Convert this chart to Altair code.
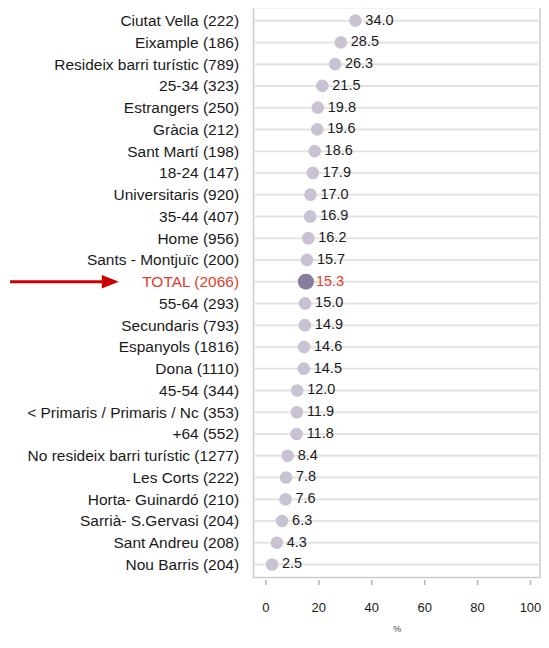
import altair as alt
import pandas as pd

categories = [
    "Ciutat Vella (222)", "Eixample (186)", "Resideix barri turístic (789)",
    "25-34 (323)", "Estrangers (250)", "Gràcia (212)", "Sant Martí (198)",
    "18-24 (147)", "Universitaris (920)", "35-44 (407)", "Home (956)",
    "Sants - Montjuïc (200)", "TOTAL (2066)", "55-64 (293)", "Secundaris (793)",
    "Espanyols (1816)", "Dona (1110)", "45-54 (344)",
    "< Primaris / Primaris / Nc (353)", "+64 (552)",
    "No resideix barri turístic (1277)", "Les Corts (222)", "Horta- Guinardó (210)",
    "Sarrià- S.Gervasi (204)", "Sant Andreu (208)", "Nou Barris (204)",
]
values = [34.0, 28.5, 26.3, 21.5, 19.8, 19.6, 18.6, 17.9, 17.0, 16.9, 16.2,
          15.7, 15.3, 15.0, 14.9, 14.6, 14.5, 12.0, 11.9, 11.8, 8.4, 7.8, 7.6,
          6.3, 4.3, 2.5]
x_ticks = [0, 20, 40, 60, 80, 100]
total_label = "TOTAL (2066)"

W, H = 287, 571
FONT = "Liberation Sans"
RED = "#e03c2c"

df = pd.DataFrame({"cat": categories, "val": values})
df["is_total"] = df["cat"] == total_label

y_enc = alt.Y(
    "cat:N", sort=categories, title=None,
    scale=alt.Scale(type="point", padding=0.6),
    axis=alt.Axis(
        ticks=False, domain=False, grid=False, labelPadding=15,
        labelFont=FONT, labelFontSize=15.5, labelLimit=400,
        labelColor={"condition": {"test": f"datum.value == '{total_label}'", "value": RED},
                    "value": "#1a1a1a"},
    ),
)
x_scale = alt.Scale(domain=[-4.5, 103.8], nice=False, zero=False)
x_enc = alt.X(
    "val:Q", scale=x_scale, title="%",
    axis=alt.Axis(
        values=x_ticks, grid=False, domain=False, tickColor="#b5b5b5",
        tickSize=5, tickWidth=1.5, offset=2, labelPadding=17,
        labelFont=FONT, labelFontSize=13, labelColor="#1a1a1a",
        titleFont=FONT, titleFontSize=9, titleFontWeight="normal",
        titleColor="#444444", titlePadding=10,
    ),
)

base = alt.Chart(df)

grid = base.mark_rule(color="#e4e4e4", strokeWidth=2).encode(
    y=y_enc, x=alt.value(0), x2=alt.value(W)
)

dots = base.mark_circle(opacity=1).encode(
    y=y_enc, x=x_enc,
    size=alt.condition("datum.is_total", alt.value(260), alt.value(160)),
    color=alt.condition("datum.is_total", alt.value("#877d9e"), alt.value("#c9c2d2")),
)

labels = base.mark_text(align="left", baseline="middle", dx=10, font=FONT,
                        fontSize=14.5).encode(
    y=y_enc, x=x_enc,
    text=alt.Text("val:Q", format=".1f"),
    color=alt.condition("datum.is_total", alt.value(RED), alt.value("#1a1a1a")),
)

arrow_df = pd.DataFrame({"cat": [total_label]})
arrow_line = alt.Chart(arrow_df).mark_rule(color="#cc0000", strokeWidth=3).encode(
    y=y_enc, x=alt.value(-244), x2=alt.value(-147)
)
arrow_head = alt.Chart(arrow_df).mark_point(
    shape="M-1,-0.8L1,0L-1,0.8Z", filled=True, color="#cc0000", opacity=1, size=289
).encode(y=y_enc, x=alt.value(-143.5))

chart = alt.layer(grid, dots, labels, arrow_line, arrow_head).properties(
    width=W, height=H,
    padding={"left": 0, "top": -1, "right": 0, "bottom": 0},
).configure_view(stroke="#cccccc", strokeWidth=1.5)

chart.save("out.html", embed_options={"renderer": "svg", "actions": False})
